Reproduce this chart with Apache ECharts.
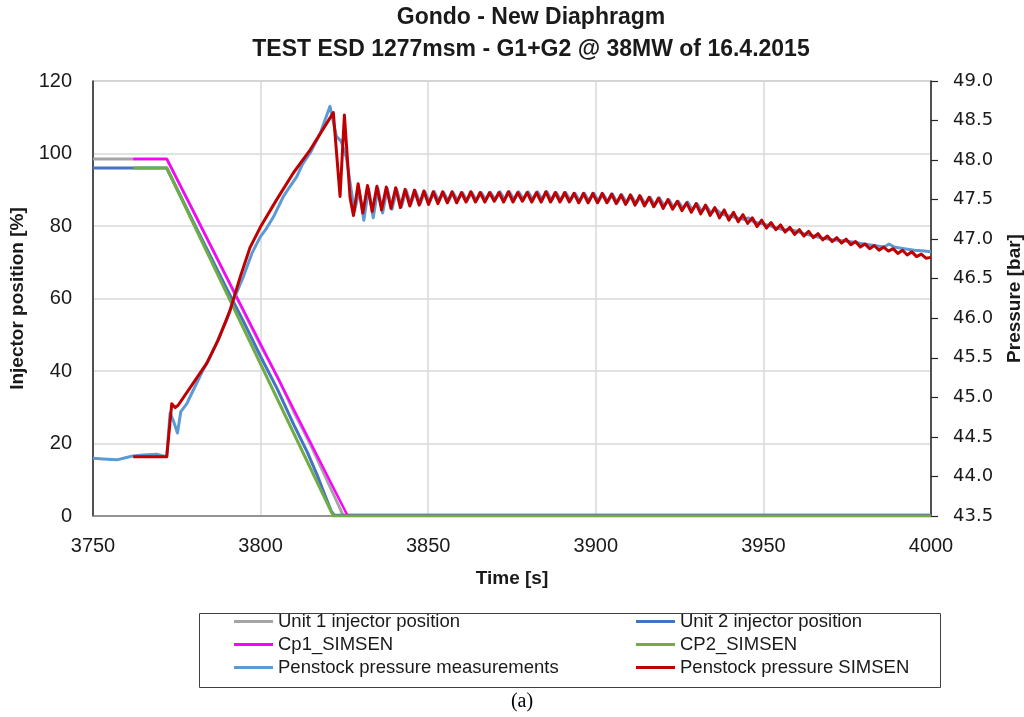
<!DOCTYPE html>
<html>
<head>
<meta charset="utf-8">
<script src="https://cdn.jsdelivr.net/npm/echarts@6/dist/echarts.min.js"></script>
<style>
html,body{margin:0;padding:0;background:#fff;}
#chart{width:1024px;height:717px;}
</style>
</head>
<body>
<div id="chart"></div>
<script>
// ---- Data (time [s], value) ----
const seriesNames = ['Unit 1 injector position','Unit 2 injector position','Cp1_SIMSEN','CP2_SIMSEN','Penstock pressure measurements','Penstock pressure SIMSEN'];
const xTicks = [3750, 3800, 3850, 3900, 3950, 4000];

const unit1Injector = [[3750,98.5],[3772,98.5],[3780,84],[3790,65.5],[3800,47],[3805,38.5],[3810,28.5],[3815,19.5],[3818,13.5],[3821,7.5],[3823,3.5],[3824.6,0.2],[4000,0.2]];
const unit2Injector = [[3750,96],[3772,96],[3780,81],[3790,62.5],[3795,53.5],[3800,44],[3805,35],[3810,25],[3814,17.5],[3817,11],[3819.5,5],[3821,1.5],[3822,0.2],[4000,0.2]];
const cp1Simsen = [[3762,98.5],[3772,98.5],[3826,0],[4000,0]];
const cp2Simsen = [[3762,96],[3772,96],[3821.7,0],[4000,0]];

const pressureMeasured = [
[3750.0,44.23],[3753.0,44.22],[3757.1,44.21],[3760.0,44.24],[3762.0,44.26],[3765.0,44.27],[3769.0,44.28],[3771.0,44.26],[3772.0,44.25],
[3773.0,44.80],[3774.0,44.70],[3775.2,44.55],[3776.2,44.82],[3778.0,44.92],[3779.9,45.09],[3782.9,45.35],[3784.5,45.47],[3786.4,45.64],
[3788.0,45.80],[3789.9,45.98],[3791.9,46.23],[3794.9,46.53],[3797.4,46.82],[3799.9,47.03],[3801.5,47.12],[3803.8,47.28],[3806.8,47.54],
[3808.5,47.65],[3810.8,47.79],[3812.5,47.95],[3814.8,48.09],[3817.8,48.34],[3820.7,48.68],[3822.6,48.30],[3824.0,48.24],[3825.6,48.03],
[3827.1,47.60],[3828.0,47.35],[3829.4,47.62],[3830.8,47.24],[3832.2,47.64],[3833.6,47.27],[3835.0,47.64],[3836.4,47.33],[3837.8,47.64],
[3839.2,47.38],[3840.6,47.63],[3842.0,47.41],[3843.4,47.62],[3844.8,47.44],[3846.2,47.61],[3847.6,47.45],[3849.0,47.60],[3850.4,47.47],
[3851.8,47.60],[3853.2,47.48],[3854.6,47.59],[3856.0,47.48],[3857.4,47.59],[3858.8,47.49],[3860.2,47.59],[3861.6,47.49],[3863.0,47.59],
[3864.4,47.49],[3865.8,47.59],[3867.2,47.50],[3868.6,47.59],[3870.0,47.50],[3871.4,47.60],[3872.8,47.50],[3874.2,47.60],[3875.6,47.50],
[3877.0,47.60],[3878.4,47.50],[3879.8,47.60],[3881.2,47.50],[3882.6,47.60],[3884.0,47.50],[3885.4,47.60],[3886.8,47.49],[3888.2,47.59],
[3889.6,47.49],[3891.0,47.59],[3892.4,47.49],[3893.8,47.58],[3895.2,47.48],[3896.6,47.58],[3898.0,47.48],[3899.4,47.58],[3900.8,47.48],
[3902.2,47.57],[3903.6,47.47],[3905.0,47.57],[3906.4,47.46],[3907.8,47.56],[3909.2,47.46],[3910.6,47.55],[3912.0,47.45],[3913.4,47.54],
[3914.8,47.44],[3916.2,47.53],[3917.6,47.43],[3919.0,47.52],[3920.4,47.42],[3921.8,47.50],[3923.2,47.40],[3924.6,47.48],[3926.0,47.39],
[3927.4,47.47],[3928.8,47.37],[3930.2,47.45],[3931.6,47.35],[3933.0,47.42],[3934.4,47.33],[3935.8,47.38],[3937.5,47.32],[3939.0,47.30],
[3940.5,47.29],[3942.0,47.27],[3944.0,47.25],[3945.5,47.27],[3947.0,47.22],[3950.0,47.19],[3952.0,47.17],[3954.0,47.14],[3956.0,47.12],
[3958.0,47.12],[3960.0,47.10],[3962.0,47.07],[3965.0,47.04],[3968.0,47.01],[3971.0,46.99],[3974.0,46.98],[3977.0,46.96],[3980.0,46.94],
[3983.0,46.92],[3986.0,46.90],[3987.5,46.94],[3989.0,46.90],[3992.0,46.88],[3995.0,46.86],[3998.0,46.85],[4000.0,46.84]
];

const pressureSimsen = [
[3762.0,44.25],[3772.0,44.25],[3773.5,44.92],[3774.5,44.87],[3775.4,44.90],[3779.9,45.18],[3783.9,45.43],[3787.4,45.73],[3790.9,46.10],
[3793.9,46.52],[3796.9,46.90],[3799.9,47.15],[3804.8,47.50],[3809.8,47.84],[3814.8,48.13],[3821.7,48.60],[3823.7,47.54],[3825.0,48.57],
[3826.7,47.52],[3827.7,47.30],[3829.1,47.70],[3830.5,47.33],[3831.9,47.68],[3833.3,47.35],[3834.7,47.67],[3836.1,47.37],[3837.5,47.66],
[3838.9,47.39],[3840.3,47.65],[3841.7,47.40],[3843.1,47.63],[3844.5,47.42],[3845.9,47.62],[3847.3,47.43],[3848.7,47.61],[3850.1,47.44],
[3851.5,47.60],[3852.9,47.45],[3854.3,47.60],[3855.7,47.46],[3857.1,47.60],[3858.5,47.46],[3859.9,47.59],[3861.3,47.47],[3862.7,47.60],
[3864.1,47.47],[3865.5,47.59],[3866.9,47.47],[3868.3,47.59],[3869.7,47.48],[3871.1,47.59],[3872.5,47.47],[3873.9,47.60],[3875.3,47.47],
[3876.7,47.59],[3878.1,47.48],[3879.5,47.59],[3880.9,47.47],[3882.3,47.59],[3883.7,47.47],[3885.1,47.60],[3886.5,47.47],[3887.9,47.59],
[3889.3,47.47],[3890.7,47.59],[3892.1,47.47],[3893.5,47.58],[3894.9,47.46],[3896.3,47.58],[3897.7,47.46],[3899.1,47.58],[3900.5,47.46],
[3901.9,47.58],[3903.3,47.46],[3904.7,47.57],[3906.1,47.45],[3907.5,47.56],[3908.9,47.44],[3910.3,47.56],[3911.7,47.43],[3913.1,47.55],
[3914.5,47.42],[3915.9,47.53],[3917.3,47.41],[3918.7,47.52],[3920.1,47.39],[3921.5,47.50],[3922.9,47.38],[3924.3,47.48],[3925.7,47.36],
[3927.1,47.46],[3928.5,47.34],[3929.9,47.45],[3931.3,47.32],[3932.7,47.43],[3934.1,47.30],[3935.5,47.40],[3936.9,47.27],[3938.3,47.37],
[3939.7,47.24],[3941.1,47.34],[3942.5,47.22],[3943.9,47.31],[3945.3,47.20],[3946.7,47.27],[3948.1,47.16],[3949.5,47.24],[3950.9,47.14],
[3952.3,47.21],[3953.7,47.12],[3955.1,47.18],[3956.5,47.09],[3957.9,47.15],[3959.3,47.06],[3960.7,47.12],[3962.1,47.04],[3963.5,47.10],
[3964.9,47.02],[3966.3,47.07],[3967.7,46.99],[3969.1,47.04],[3970.5,46.97],[3971.9,47.02],[3973.3,46.95],[3974.7,47.00],[3976.1,46.93],
[3977.5,46.97],[3978.9,46.90],[3980.3,46.94],[3981.7,46.88],[3983.1,46.92],[3984.5,46.86],[3985.9,46.90],[3987.3,46.85],[3988.7,46.88],
[3990.1,46.82],[3991.5,46.86],[3992.9,46.80],[3994.3,46.84],[3995.7,46.78],[3997.1,46.81],[3998.5,46.76],[4000.0,46.77]
];

const colors = ['#A5A5A5','#4472C4','#FF00FF','#70AD47','#5B9BD5','#C00000'];

const chart = echarts.init(document.getElementById('chart'), null, {renderer:'canvas'});
const sansFont = "'Liberation Sans', Arial, sans-serif";

function lineSeries(idx, data, yIdx, width) {
  return {
    name: seriesNames[idx], type: 'line', data: data, yAxisIndex: yIdx,
    symbol: 'none', showSymbol: false, animation: false,
    lineStyle: {color: colors[idx], width: width, join: 'round'},
    itemStyle: {color: colors[idx]}
  };
}

const legendCommon = {
  orient: 'vertical', top: 612, itemWidth: 39, itemHeight: 3, itemGap: 4, padding: 0,
  icon: 'rect',
  textStyle: {fontFamily: sansFont, fontSize: 18.5, color: '#1a1a1a', lineHeight: 19},
  selectedMode: false
};

chart.setOption({
  backgroundColor: '#ffffff',
  animation: false,
  title: [{
    text: 'Gondo - New Diaphragm\nTEST ESD 1277msm - G1+G2 @ 38MW of 16.4.2015',
    left: 531, top: 2, textAlign: 'center', padding: 0,
    textStyle: {fontFamily: sansFont, fontWeight: 'bold', fontSize: 23, lineHeight: 31.5, color: '#1a1a1a'}
  },{
    text: '(a)', left: 522, top: 692, textAlign: 'center', padding: 0,
    textStyle: {fontFamily: "'Liberation Serif', 'Times New Roman', serif", fontWeight: 'normal', fontSize: 20, color: '#000'}
  }],
  grid: {left: 93, right: 93, top: 81, bottom: 201, show: true, borderColor: '#8c8c8c', borderWidth: 1,
    backgroundColor: 'transparent', containLabel: false, outerBoundsMode: 'none'},
  legend: [
    Object.assign({left: 234, data: [seriesNames[0], seriesNames[2], seriesNames[4]]}, legendCommon),
    Object.assign({left: 636, data: [seriesNames[1], seriesNames[3], seriesNames[5]]}, legendCommon)
  ],
  graphic: [{
    type: 'rect', left: 197, top: 611, shape: {width: 741, height: 74},
    style: {fill: 'none', stroke: '#404040', lineWidth: 1}, silent: true
  }],
  xAxis: {
    type: 'value', min: xTicks[0], max: xTicks[xTicks.length-1], interval: 50,
    name: 'Time [s]', nameLocation: 'middle', nameGap: 53,
    nameTextStyle: {fontFamily: sansFont, fontWeight: 'bold', fontSize: 19, color: '#1a1a1a'},
    axisLine: {show: true, onZero: false, lineStyle: {color: '#7f7f7f', width: 1.5}},
    axisTick: {show: false},
    axisLabel: {margin: 20, fontFamily: sansFont, fontSize: 20, color: '#1a1a1a',
      formatter: function (v) { return String(v); }},
    splitLine: {show: true, lineStyle: {color: '#d9d9d9', width: 1.5}}
  },
  yAxis: [{
    type: 'value', min: 0, max: 120, interval: 20, position: 'left',
    name: 'Injector position [%]', nameLocation: 'middle', nameGap: 62, nameRotate: 90,
    nameTextStyle: {fontFamily: sansFont, fontWeight: 'bold', fontSize: 19, color: '#1a1a1a'},
    axisLine: {show: true, onZero: false, lineStyle: {color: '#262626', width: 1.5}},
    axisTick: {show: false},
    axisLabel: {margin: 21, fontFamily: sansFont, fontSize: 20, color: '#1a1a1a'},
    splitLine: {show: true, lineStyle: {color: '#d9d9d9', width: 1.5}}
  },{
    type: 'value', min: 43.5, max: 49, interval: 0.5, position: 'right',
    name: 'Pressure [bar]', nameLocation: 'middle', nameGap: 74, nameRotate: 90,
    nameTextStyle: {fontFamily: sansFont, fontWeight: 'bold', fontSize: 19, color: '#1a1a1a'},
    axisLine: {show: true, onZero: false, lineStyle: {color: '#262626', width: 1.5}},
    axisTick: {show: true, inside: false, length: 7, lineStyle: {color: '#262626', width: 1.2}},
    axisLabel: {margin: 22, fontFamily: "'DejaVu Sans', sans-serif", fontSize: 18, color: '#1a1a1a',
      formatter: function (v) { return v.toFixed(1); }},
    splitLine: {show: false}
  }],
  series: [
    lineSeries(0, unit1Injector, 0, 3),
    lineSeries(1, unit2Injector, 0, 3),
    lineSeries(2, cp1Simsen, 0, 2.5),
    lineSeries(3, cp2Simsen, 0, 3),
    lineSeries(4, pressureMeasured, 1, 3),
    lineSeries(5, pressureSimsen, 1, 3)
  ]
});
</script>
</body>
</html>
